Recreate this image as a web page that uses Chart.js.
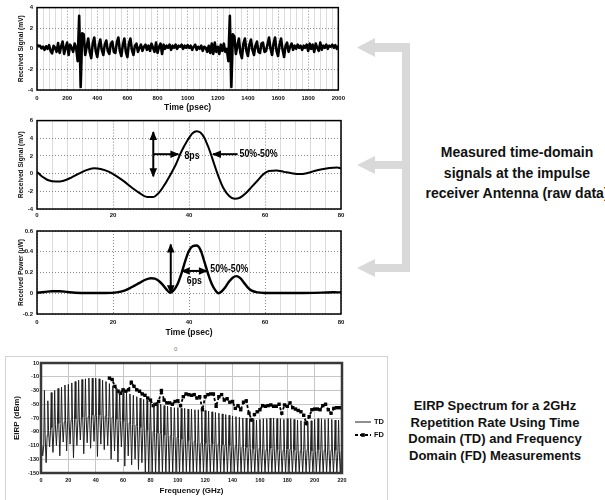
<!DOCTYPE html>
<html>
<head>
<meta charset="utf-8">
<script src="https://cdn.jsdelivr.net/npm/chart.js@4.4.1/dist/chart.umd.min.js"></script>
<style>
  body { margin: 0; width: 605px; height: 500px; position: relative; overflow: hidden; background: #fff;
         font-family: "Liberation Sans", Arial, sans-serif; }
  canvas { position: absolute; }
  .note { position: absolute; font-weight: bold; color: #111; text-align: center; white-space: nowrap; }
  #frame4 { position: absolute; left: 5px; top: 356px; width: 381px; height: 160px; border: 1px solid #d2d2d2; }
  #zero { position: absolute; left: 174px; top: 346px; font-size: 6px; color: #777; }
</style>
</head>
<body>
<svg style="position:absolute;left:0;top:0" width="605" height="500">
  <g fill="#d9d9d9">
    <rect x="402" y="43" width="8" height="229"/>
    <rect x="372" y="43" width="38" height="9"/>
    <polygon points="357,47.5 375,38 375,57"/>
    <rect x="372" y="161" width="38" height="8"/>
    <polygon points="357,165 375,156 375,174"/>
    <rect x="372" y="264" width="38" height="8"/>
    <polygon points="357,268 375,259 375,277"/>
  </g>
</svg>
<div class="note" style="left:407px;top:142px;width:220px;font-size:14px;line-height:20.5px;">Measured time-domain<br>signals at the impulse<br>receiver Antenna (raw data)</div>
<div class="note" style="left:385px;top:398px;width:220px;font-size:13px;line-height:16.5px;">EIRP Spectrum for a 2GHz<br>Repetition Rate Using Time<br>Domain (TD) and Frequency<br>Domain (FD) Measurements</div>
<div id="frame4"></div>
<div id="zero">0</div>

<canvas id="c1" width="350" height="113" style="left:0;top:0"></canvas>
<canvas id="c2" width="350" height="109" style="left:0;top:113px"></canvas>
<canvas id="c3" width="350" height="118" style="left:0;top:222px"></canvas>
<canvas id="c4" width="380" height="143" style="left:6px;top:357px"></canvas>

<script>
// raw signal, one sample every 10 psec from 0 to 2000
const t1Step = 10;
const signal1 = [
  0.4, 0.25, 0.3, 0.05, 0.2, -0.1, 0.25, 0.0, 0.35, -0.2,
  -0.45, 0.3, 0.1, -0.3, 0.55, -0.4, 0.2, 0.7, -0.5, 0.1,
  0.6, -0.6, 0.4, 0.1, -0.3, 0.5, 0.1, -1.2, 3.2, -3.7,
  1.5, 1.4, -0.6, 0.2, 1.0, -0.3, -0.9, 0.5, 1.1, -0.2,
  -0.8, 0.3, 0.9, -0.1, -0.6, 0.4, 0.8, -0.2, -0.5, 0.5,
  0.7, -0.3, -0.4, 0.6, 1.1, -0.2, -0.7, 0.4, 1.0, -0.3,
  -0.8, 0.5, 1.0, -0.1, -0.6, 0.3, 0.5, -0.3, 0.1, 0.4,
  -0.2, 0.2, 0.4, -0.1, 0.3, -0.2, 0.5, 0.1, -0.3, 0.6,
  -0.4, 0.2, 0.5, -0.5, 0.4, 0.0, 0.3, 0.1, 0.4, -0.1,
  0.3, 0.1, 0.4, 0.0, 0.3, 0.2, 0.4, 0.0, 0.3, 0.1,
  0.35, 0.1, 0.3, -0.1, 0.2, 0.4, -0.1, 0.2, 0.0, 0.3,
  -0.2, 0.2, 0.1, -0.3, 0.3, -0.4, 0.5, -0.5, 0.6, -0.3,
  0.2, -0.5, 0.4, -0.2, 0.5, -0.3, 0.0, -1.2, 3.2, -3.7,
  1.4, 1.2, -0.5, 0.3, 1.0, -0.4, -0.9, 0.5, 1.0, -0.2,
  -0.7, 0.4, 0.9, -0.1, -0.6, 0.3, 0.7, -0.3, -0.4, 0.5,
  0.6, -0.3, -0.2, 0.4, 1.1, 0.0, -0.6, 0.5, 1.1, -0.2,
  -0.7, 0.4, 1.0, -0.1, -0.8, 0.3, 0.6, -0.3, 0.2, 0.5,
  -0.1, 0.3, 0.0, 0.4, 0.1, 0.3, -0.1, 0.3, 0.1, 0.4,
  -0.2, 0.5, 0.0, 0.4, -0.3, 0.5, 0.1, -0.2, 0.6, -0.1,
  0.3, 0.1, 0.4, 0.0, 0.3, 0.2, 0.4, 0.1, 0.35, 0.0,
  0.3
];

// zoomed pulse (mV)
const t2 = [0, 1, 2, 3, 5, 7, 9, 11, 13, 15, 17, 19, 21, 23, 25, 27, 29, 30.5, 32, 33.5,
  35, 36.5, 38, 39.5, 41, 42, 43, 44, 45, 46, 47, 48, 49, 50.5, 52, 53.5, 55, 56.5, 58, 59.5,
  61, 63, 65, 67, 69, 71, 73, 75, 77, 79, 80];
const signal2 = [0.2, -0.2, -0.5, -0.75, -0.9, -0.8, -0.45, 0.0, 0.4, 0.6, 0.5, 0.2, -0.3, -0.9, -1.6, -2.2, -2.65, -2.65, -2.2, -1.3,
  -0.2, 1.0, 2.5, 3.7, 4.6, 4.8, 4.65, 4.1, 3.1, 1.9, 0.6, -0.6, -1.6, -2.5, -2.85, -2.7, -2.2, -1.5, -0.8, -0.1,
  0.3, 0.35, 0.2, 0.05, -0.05, 0.05, 0.3, 0.5, 0.65, 0.7, 0.6];

// received power (uW)
const t3 = [0, 2, 4, 6, 8, 10, 14, 18, 21, 23, 25, 27, 28.5, 30, 31, 32, 33, 34, 35, 36,
  37, 38, 39, 40, 41, 42, 43, 44, 45, 46, 47, 47.7, 48.5, 49.5, 50.5, 51.5, 52.5, 53.5, 54.5, 55.5,
  56.5, 58, 60, 65, 70, 75, 78, 80];
const power3 = [0.005, 0.012, 0.02, 0.02, 0.012, 0.005, 0.003, 0.003, 0.008, 0.025, 0.06, 0.1, 0.13, 0.145, 0.14, 0.12, 0.085, 0.04, 0.005, 0.03,
  0.09, 0.19, 0.31, 0.41, 0.455, 0.46, 0.42, 0.31, 0.19, 0.09, 0.025, 0.0, 0.015, 0.055, 0.11, 0.15, 0.165, 0.145, 0.1, 0.055,
  0.025, 0.008, 0.003, 0.002, 0.003, 0.006, 0.01, 0.008];

// annotations: [x1, y1, x2, y2, bothHeads] and [text, x, y, align]
const pulseArrows = [[30.6, -0.3, 30.6, 4.7, true], [30.6, 2.2, 37.2, 2.2, false], [52.8, 2.2, 46.3, 2.2, false]];
const pulseNotes = [['8ps', 40.8, 1.95, 'center'], ['50%-50%', 53.3, 2.2, 'left']];
const powerArrows = [[35.2, 0.0, 35.2, 0.47, true], [38.1, 0.215, 44.7, 0.215, true]];
const powerNotes = [['6ps', 41.4, 0.12, 'center'], ['50%-50%', 45.6, 0.235, 'left']];

// EIRP spectrum, TD comb: one tooth every 2.5 GHz (peak, shelf, null)
const tdSpacing = 2.5;
const tdPeak = [
  -120, -30, -45, -33, -30, -27, -25, -22, -21, -19,
  -17, -15, -14, -13, -12, -12, -12, -13, -15, -17,
  -20, -23, -27, -29, -31, -33, -35, -37, -39, -41,
  -43, -44, -46, -48, -49, -50, -52, -53, -54, -55,
  -55, -56, -56, -57, -57, -58, -58, -59, -59, -60,
  -61, -62, -63, -64, -65, -66, -67, -68, -69, -70,
  -70, -71, -72, -73, -72, -71, -71, -70, -70, -71,
  -71, -72, -71, -71, -72, -73, -74, -75, -76, -74,
  -72, -71, -71, -72, -71, -72, -73, -73
];
const tdShelf = [
  -110, -95, -88, -84, -80, -78, -76, -74, -73, -72,
  -71, -70, -69, -68, -67, -66, -66, -66, -67, -68,
  -69, -71, -72, -74, -75, -77, -79, -80, -82, -84,
  -86, -88, -90, -91, -92, -93, -95, -96, -97, -98,
  -100, -101, -102, -103, -104, -105, -106, -106, -107, -107,
  -108, -108, -109, -109, -110, -110, -111, -112, -112, -113,
  -113, -114, -115, -114, -115, -116, -115, -114, -115, -116,
  -117, -116, -115, -116, -117, -118, -117, -116, -117, -118,
  -117, -116, -117, -118, -117, -118, -117, -118
];
const tdNull = [
  -125, -135, -112, -120, -110, -125, -105, -118, -108, -128,
  -110, -102, -122, -106, -114, -104, -126, -108, -116, -110,
  -130, -118, -134, -112, -140, -125, -138, -130, -145, -135,
  -150, -150, -150, -150, -150, -150, -150, -150, -150, -150,
  -150, -150, -150, -150, -150, -150, -150, -150, -150, -150,
  -150, -150, -150, -150, -150, -150, -150, -150, -150, -150,
  -150, -150, -150, -150, -150, -150, -150, -150, -150, -150,
  -150, -150, -150, -150, -150, -150, -150, -150, -150, -150,
  -150, -150, -150, -150, -150, -150, -150, -150
];

const fdFreq = [50, 52, 54, 56, 58, 60, 62, 64, 66, 68, 70, 72, 74, 76, 78, 80, 82, 84, 86, 88,
  90, 92, 94, 96, 98, 100, 102, 104, 106, 108, 110, 112, 114, 116, 118, 120, 122, 124, 126, 128,
  130, 132, 134, 136, 138, 140, 142, 144, 146, 148, 150, 152, 154, 156, 158, 160, 162, 164, 166, 168,
  170, 172, 174, 176, 178, 180, 182, 184, 186, 188, 190, 192, 194, 196, 198, 200, 202, 204, 206, 208,
  210, 212, 214, 216, 218, 220];
const fdEirp = [-12, -14, -24, -31, -34, -29, -31, -29, -18, -24, -29, -31, -35, -37, -41, -44, -52, -50, -46, -30,
  -44, -48, -48, -50, -46, -45, -52, -39, -35, -36, -37, -36, -41, -39, -58, -39, -36, -35, -35, -53,
  -39, -36, -44, -42, -47, -46, -56, -52, -58, -47, -45, -63, -73, -65, -61, -58, -52, -53, -52, -51,
  -53, -53, -50, -63, -51, -53, -48, -55, -57, -59, -61, -66, -78, -68, -58, -57, -57, -58, -52, -50,
  -58, -63, -56, -55, -55, -55];

const fontFam = "'Liberation Sans', Arial, sans-serif";
Chart.defaults.font.family = fontFam;
Chart.defaults.font.weight = 'bold';
Chart.defaults.color = '#111';
Chart.defaults.animation = false;

const framePlugin = {
  id: 'frame',
  afterDraw(chart, args, opts) {
    const { ctx, chartArea: a } = chart;
    ctx.save();
    ctx.strokeStyle = opts.color || '#000';
    ctx.lineWidth = opts.width || 1.5;
    ctx.strokeRect(a.left, a.top, a.right - a.left, a.bottom - a.top);
    ctx.restore();
  }
};

function drawHead(ctx, x1, y1, x2, y2) {
  const ang = Math.atan2(y2 - y1, x2 - x1);
  ctx.save();
  ctx.translate(x2, y2);
  ctx.rotate(ang);
  ctx.beginPath();
  ctx.moveTo(1, 0);
  ctx.lineTo(-8, -3.8);
  ctx.lineTo(-8, 3.8);
  ctx.closePath();
  ctx.fill();
  ctx.restore();
}

const notesPlugin = {
  id: 'notes',
  afterDatasetsDraw(chart, args, opts) {
    if (!opts.arrows) return;
    const { ctx, scales: { x, y } } = chart;
    ctx.save();
    ctx.strokeStyle = '#000';
    ctx.fillStyle = '#000';
    ctx.lineWidth = 2;
    opts.arrows.forEach(([xa, ya, xb, yb, both]) => {
      const x1 = x.getPixelForValue(xa), y1 = y.getPixelForValue(ya);
      const x2 = x.getPixelForValue(xb), y2 = y.getPixelForValue(yb);
      ctx.beginPath();
      ctx.moveTo(x1, y1);
      ctx.lineTo(x2, y2);
      ctx.stroke();
      drawHead(ctx, x1, y1, x2, y2);
      if (both) drawHead(ctx, x2, y2, x1, y1);
    });
    ctx.font = 'bold 11px ' + fontFam;
    ctx.textBaseline = 'middle';
    opts.labels.forEach(([text, xv, yv, align]) => {
      ctx.save();
      ctx.translate(x.getPixelForValue(xv), y.getPixelForValue(yv));
      ctx.scale(0.8, 1);
      ctx.textAlign = align;
      ctx.fillText(text, 0, 0);
      ctx.restore();
    });
    ctx.restore();
  }
};

const sideLegend = {
  id: 'sideLegend',
  afterDraw(chart, args, opts) {
    if (!opts.show) return;
    const { ctx, chartArea: a } = chart;
    chart.data.datasets.forEach((ds, i) => {
      const y = a.top + 59 + i * 13;
      const x0 = a.right + 13, x1 = a.right + 29;
      ctx.save();
      ctx.strokeStyle = ds.borderColor;
      ctx.lineWidth = ds.borderWidth;
      ctx.setLineDash(ds.borderDash || []);
      ctx.beginPath();
      ctx.moveTo(x0, y);
      ctx.lineTo(x1, y);
      ctx.stroke();
      if (ds.pointRadius) {
        ctx.fillStyle = ds.pointBackgroundColor;
        ctx.fillRect((x0 + x1) / 2 - 1.8, y - 1.8, 3.6, 3.6);
      }
      ctx.fillStyle = '#111';
      ctx.font = 'bold 7.5px ' + fontFam;
      ctx.textBaseline = 'middle';
      ctx.fillText(ds.label, x1 + 3, y);
      ctx.restore();
    });
  }
};

Chart.register(framePlugin, notesPlugin, sideLegend);

function timeChart(id, cfg) {
  const major = cfg.major;
  return new Chart(document.getElementById(id), {
    type: 'line',
    data: {
      datasets: [{
        data: cfg.xs.map((t, i) => ({ x: t, y: cfg.ys[i] })),
        borderColor: '#000',
        borderWidth: cfg.lineWidth,
        borderJoinStyle: 'round',
        pointRadius: 0,
        cubicInterpolationMode: cfg.smooth ? 'monotone' : 'default',
        tension: 0
      }]
    },
    options: {
      responsive: false,
      layout: { padding: { left: 0, top: cfg.padTop, right: 9, bottom: 0 } },
      plugins: {
        legend: { display: false },
        tooltip: { enabled: false },
        frame: { color: '#000', width: 1.5 },
        notes: cfg.notes || {}
      },
      scales: {
        x: {
          type: 'linear',
          min: cfg.xMin, max: cfg.xMax,
          afterFit: s => { s.height = cfg.xHeight; },
          ticks: {
            stepSize: cfg.minor,
            autoSkip: false,
            maxRotation: 0,
            padding: cfg.xTickPad,
            font: { size: 6 },
            callback: v => (v % major === 0 ? v : '')
          },
          grid: {
            drawTicks: false,
            lineWidth: 1,
            color: c => (c.tick && c.tick.value % major === 0 ? '#8a8a8a' : '#dcdcdc')
          },
          border: {
            display: false,
            dash: c => (c.tick && c.tick.value % major === 0 ? [1, 2] : [])
          },
          title: {
            display: !!cfg.xTitle,
            text: cfg.xTitle || '',
            font: { size: 8.5 },
            padding: { top: 0, bottom: cfg.xTitlePad || 0 }
          }
        },
        y: {
          min: cfg.yMin, max: cfg.yMax,
          afterFit: s => { s.width = 37; },
          ticks: {
            stepSize: cfg.yStep,
            padding: 4,
            font: { size: 6 },
            callback: v => Math.round(v * 10) / 10
          },
          grid: { drawTicks: false, color: '#8a8a8a', lineWidth: 1 },
          border: { display: false, dash: [1, 2] },
          title: {
            display: true,
            text: cfg.yTitle,
            font: { size: 6.6 },
            padding: { top: 17, bottom: 0 }
          }
        }
      }
    }
  });
}

timeChart('c1', {
  xs: signal1.map((v, i) => i * t1Step), ys: signal1,
  lineWidth: 2.6, smooth: false,
  xMin: 0, xMax: 2000, major: 200, minor: 40,
  yMin: -4, yMax: 4, yStep: 2,
  padTop: 5, xHeight: 23, xTickPad: 5,
  xTitle: 'Time (psec)', xTitlePad: 0,
  yTitle: 'Received Signal (mV)'
});

timeChart('c2', {
  xs: t2, ys: signal2,
  lineWidth: 2, smooth: true,
  xMin: 0, xMax: 80, major: 20, minor: 4,
  yMin: -4, yMax: 6, yStep: 2,
  padTop: 7, xHeight: 13, xTickPad: 2.4,
  yTitle: 'Received Signal (mV)',
  notes: { arrows: pulseArrows, labels: pulseNotes }
});

timeChart('c3', {
  xs: t3, ys: power3,
  lineWidth: 2.4, smooth: true,
  xMin: 0, xMax: 80, major: 20, minor: 4,
  yMin: -0.2, yMax: 0.6, yStep: 0.2,
  padTop: 9, xHeight: 26, xTickPad: 4.4,
  xTitle: 'Time (psec)', xTitlePad: 2,
  yTitle: 'Received Power (µW)',
  notes: { arrows: powerArrows, labels: powerNotes }
});

const tdData = [];
tdPeak.forEach((p, k) => {
  const f = k * tdSpacing;
  tdData.push({ x: f, y: p }, { x: f + 0.5, y: tdShelf[k] }, { x: f + 1.25, y: tdNull[k] }, { x: f + 2, y: tdShelf[k] });
});

new Chart(document.getElementById('c4'), {
  type: 'line',
  data: {
    datasets: [
      {
        label: 'TD',
        data: tdData,
        borderColor: '#1e1e1e',
        borderWidth: 1,
        pointRadius: 0,
        tension: 0
      },
      {
        label: 'FD',
        data: fdFreq.map((f, i) => ({ x: f, y: fdEirp[i] })),
        borderColor: '#000',
        borderWidth: 1.8,
        borderDash: [3, 2],
        pointStyle: 'rect',
        pointRadius: 2.4,
        pointBackgroundColor: '#000',
        pointBorderWidth: 0,
        tension: 0
      }
    ]
  },
  options: {
    responsive: false,
    layout: { padding: { left: 0, top: 6, right: 44, bottom: 0 } },
    plugins: {
      legend: { display: false },
      tooltip: { enabled: false },
      frame: { color: '#383838', width: 2.5 },
      sideLegend: { show: true }
    },
    scales: {
      x: {
        type: 'linear',
        min: 0, max: 220,
        afterFit: s => { s.height = 27; },
        ticks: { stepSize: 20, maxRotation: 0, autoSkip: false, padding: 3.7, font: { size: 5.5 } },
        grid: { drawTicks: false, color: '#c6c6c6' },
        border: { display: false },
        title: { display: true, text: 'Frequency (GHz)', font: { size: 8 }, padding: { top: 0, bottom: 4 } }
      },
      y: {
        min: -150, max: 10,
        afterFit: s => { s.width = 35; },
        ticks: { stepSize: 20, padding: 2, font: { size: 5.5 } },
        grid: { drawTicks: false, color: '#c6c6c6' },
        border: { display: false },
        title: { display: true, text: 'EIRP (dBm)', font: { size: 8 }, padding: { top: 6, bottom: 0 } }
      }
    }
  }
});
</script>
</body>
</html>
